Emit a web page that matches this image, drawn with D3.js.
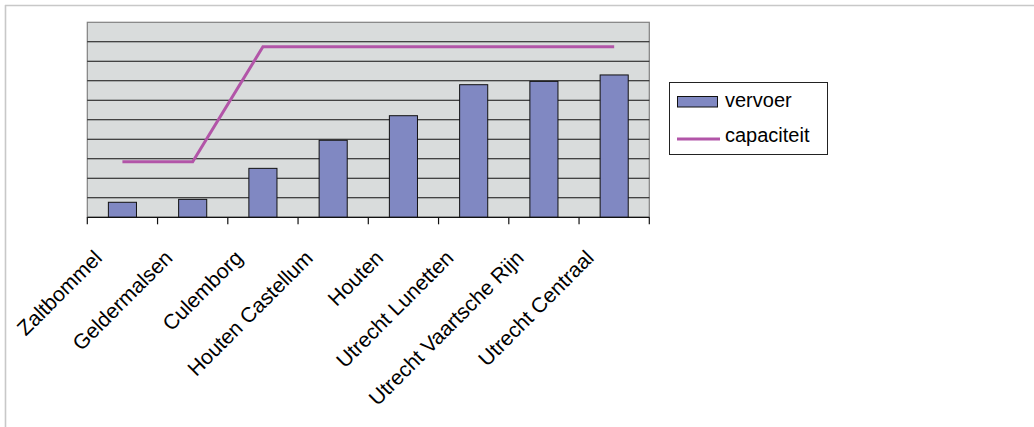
<!DOCTYPE html>
<html><head><meta charset="utf-8">
<script src="https://cdn.jsdelivr.net/npm/d3@7"></script>
<style>body{margin:0;background:#fff;}svg{display:block;font-family:Arial,"Liberation Sans",sans-serif;}</style>
</head><body>
<script>
const categories = ["Zaltbommel","Geldermalsen","Culemborg","Houten Castellum","Houten","Utrecht Lunetten","Utrecht Vaartsche Rijn","Utrecht Centraal"];
const vervoer = [0.77, 0.92, 2.51, 3.95, 5.21, 6.80, 6.97, 7.30];
const capaciteit = [2.85, 2.85, 8.75, 8.75, 8.75, 8.75, 8.75, 8.75];
const seriesNames = ["vervoer","capaciteit"];
const yTicks = [0,1,2,3,4,5,6,7,8,9,10];

const W = 1034, H = 427;
const plot = {left: 87.3, right: 649.3, top: 22.3, bottom: 217.3};
const barColor = "#8088c2", lineColor = "#b255a8";

const svg = d3.select("body").append("svg").attr("width", W).attr("height", H);

// outer frame (clipped chart area border)
svg.append("line").attr("x1",5).attr("x2",W).attr("y1",5.5).attr("y2",5.5).attr("stroke","#c8c8c8").attr("stroke-width",1.6);
svg.append("line").attr("x1",5.5).attr("x2",5.5).attr("y1",5).attr("y2",H).attr("stroke","#c8c8c8").attr("stroke-width",1.6);

const x = d3.scaleBand().domain(categories).range([plot.left, plot.right]).paddingInner(0).paddingOuter(0);
const y = d3.scaleLinear().domain([0, 10]).range([plot.bottom, plot.top]);

// plot background
svg.append("rect").attr("x",plot.left).attr("y",plot.top).attr("width",plot.right-plot.left).attr("height",plot.bottom-plot.top)
  .attr("fill","#d9dcdc").attr("stroke","#808080").attr("stroke-width",1.2);

// gridlines
svg.append("g").selectAll("line").data(yTicks.slice(1, -1)).join("line")
  .attr("x1",plot.left).attr("x2",plot.right).attr("y1",d=>y(d)).attr("y2",d=>y(d))
  .attr("stroke","#111").attr("stroke-width",1.1);

// bars
const bw = x.bandwidth()/2.5;
svg.append("g").selectAll("rect").data(vervoer).join("rect")
  .attr("x",(d,i)=>x(categories[i]) + x.bandwidth()/2 - bw/2)
  .attr("y",d=>y(d)).attr("width",bw).attr("height",d=>y(0)-y(d))
  .attr("fill",barColor).attr("stroke","#111").attr("stroke-width",1);

// line
const line = d3.line().x((d,i)=>x(categories[i])+x.bandwidth()/2).y(d=>y(d));
svg.append("path").datum(capaciteit).attr("d",line).attr("fill","none").attr("stroke",lineColor).attr("stroke-width",3);

// x axis
const xAxis = svg.append("g").attr("transform",`translate(0,${plot.bottom})`);
xAxis.append("line").attr("x1",plot.left).attr("x2",plot.right).attr("stroke","#111").attr("stroke-width",1.2);
const bounds = categories.map(c=>x(c)).concat([plot.right]);
xAxis.selectAll("line.tick").data(bounds).join("line").attr("class","tick")
  .attr("x1",d=>d).attr("x2",d=>d).attr("y1",0).attr("y2",7).attr("stroke","#111").attr("stroke-width",1.2);
xAxis.selectAll("text").data(categories).join("text")
  .attr("transform",d=>`translate(${x(d)+x.bandwidth()/2-19},42) rotate(-45)`)
  .attr("text-anchor","end").attr("font-size",21).attr("fill","#000").text(d=>d);

// legend
const lg = svg.append("g");
lg.append("rect").attr("x",669.5).attr("y",82.5).attr("width",158).attr("height",72).attr("fill","#fff").attr("stroke","#222").attr("stroke-width",1);
lg.append("rect").attr("x",677.5).attr("y",96.5).attr("width",40).attr("height",10.5).attr("fill",barColor).attr("stroke","#111");
lg.append("text").attr("x",725).attr("y",107).attr("font-size",20).text(seriesNames[0]);
lg.append("line").attr("x1",677).attr("x2",720).attr("y1",139).attr("y2",139).attr("stroke",lineColor).attr("stroke-width",3);
lg.append("text").attr("x",725).attr("y",142).attr("font-size",20).text(seriesNames[1]);
</script>
</body></html>
